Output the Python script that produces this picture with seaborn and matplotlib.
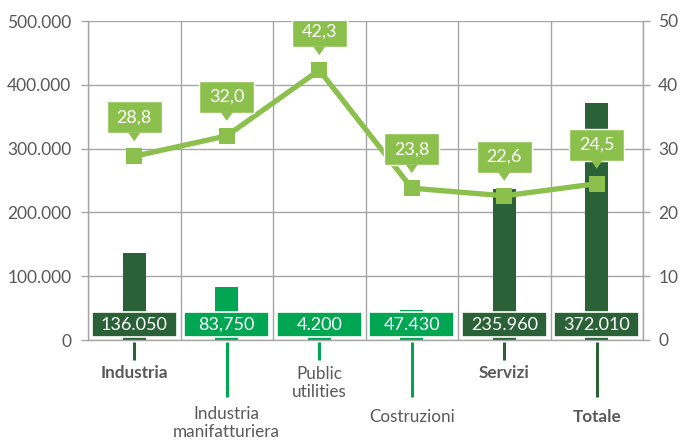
import numpy as np
import pandas as pd
import seaborn as sns
import matplotlib
matplotlib.use("Agg")
import matplotlib.pyplot as plt
from matplotlib.patches import Rectangle, Polygon

# ---------------- data ----------------
categories = ["Industria", "Industria\nmanifatturiera", "Public\nutilities",
              "Costruzioni", "Servizi", "Totale"]
employees = [136050, 83750, 4200, 47430, 235960, 372010]
employee_labels = ["136.050", "83,750", "4.200", "47.430", "235.960", "372.010"]
share = [28.8, 32.0, 42.3, 23.8, 22.6, 24.5]
share_labels = ["28,8", "32,0", "42,3", "23,8", "22,6", "24,5"]
is_aggregate = [True, False, False, False, True, True]
left_ticks = [0, 100000, 200000, 300000, 400000, 500000]
left_tick_labels = ["0", "100.000", "200.000", "300.000", "400.000", "500.000"]
right_ticks = [0, 10, 20, 30, 40, 50]
right_tick_labels = ["0", "10", "20", "30", "40", "50"]
label_long = [False, True, False, True, False, True]

# ---------------- style ----------------
DARK = "#2A6137"
BRIGHT = "#00A651"
LINE = "#8BC04C"
GRID = "#A6A6A6"
TXT = "#595959"

sns.set_theme(style="white")
plt.rcParams["font.family"] = ["Lato", "DejaVu Sans"]

W, H = 682, 440
fig = plt.figure(figsize=(W / 100, H / 100), dpi=100)
ax_l, ax_b, ax_w, ax_h = 88, 100, 555, 319
ax = fig.add_axes([ax_l / W, ax_b / H, ax_w / W, ax_h / H])

colors = [DARK if a else BRIGHT for a in is_aggregate]
df = pd.DataFrame({"cat": categories, "emp": employees})
sns.barplot(data=df, x="cat", y="emp", hue="cat", palette=colors, legend=False,
            width=0.25, saturation=1, ax=ax, zorder=2, edgecolor="none")

ax.set_xlim(-0.5, 5.5)
ax.set_ylim(0, 500000)
ax.set_xlabel("")
ax.set_ylabel("")
ax.set_xticks(range(len(categories)))
ax.set_xticklabels([])
ax.set_xticks(np.arange(-0.5, len(categories), 1), minor=True)
ax.tick_params(axis="x", which="both", length=0)
ax.set_yticks(left_ticks)
ax.set_yticklabels(left_tick_labels)
ax.tick_params(axis="y", length=5, width=1, color=GRID, labelsize=12.5,
               labelcolor=TXT, pad=7)
ax.set_axisbelow(True)
ax.grid(axis="y", color=GRID, lw=1)
ax.grid(axis="x", which="minor", color=GRID, lw=1)
ax.grid(axis="x", which="major", visible=False)
for s in ["left", "right", "bottom"]:
    ax.spines[s].set_color(GRID)
    ax.spines[s].set_linewidth(1)
ax.spines["top"].set_visible(False)

# unit conversions (pixels -> data)
px_x = 6 / ax_w
px_l = 500000 / ax_h
px_r = 50 / ax_h

# value boxes over the bar bottoms
for i, (lab, agg) in enumerate(zip(employee_labels, is_aggregate)):
    c = DARK if agg else BRIGHT
    ax.add_patch(Rectangle((i - 0.46, 3 * px_l), 0.92, 25 * px_l, facecolor=c,
                           edgecolor="white", lw=1.2, zorder=3))
    ax.text(i, 15.5 * px_l, lab, ha="center", va="center", color="white",
            fontsize=13, zorder=4)

# category labels with leader ticks
xt = ax.get_xaxis_transform()
for i, (cat, agg, lng) in enumerate(zip(categories, is_aggregate, label_long)):
    c = DARK if agg else BRIGHT
    end = -57 / ax_h if lng else -20 / ax_h
    ax.plot([i, i], [-2 / ax_h, end], transform=xt, color=c, lw=2.2,
            clip_on=False, solid_capstyle="butt")
    if lng:
        ly = -77 / ax_h if "\n" not in cat else -83 / ax_h
    else:
        ly = -33 / ax_h if "\n" not in cat else -43 / ax_h
    ax.text(i, ly, cat, transform=xt, ha="center", va="center", color=TXT,
            fontsize=12.3, fontweight="bold" if agg else "normal",
            linespacing=1.2)

# ---------------- line on secondary axis ----------------
ax2 = ax.twinx()
sns.lineplot(x=np.arange(len(share)), y=share, ax=ax2, color=LINE, lw=3.8,
             marker="s", markersize=11.5, markeredgewidth=0, zorder=3)
ax2.set_ylim(0, 50)
ax2.set_xlim(-0.5, 5.5)
ax2.set_yticks(right_ticks)
ax2.set_yticklabels(right_tick_labels)
ax2.tick_params(axis="y", length=5, width=1, color=GRID, labelsize=12.5,
                labelcolor=TXT, pad=6)
ax2.set_ylabel("")
for s in ax2.spines.values():
    s.set_visible(False)
ax2.grid(False)

# callouts
for i, (v, lab) in enumerate(zip(share, share_labels)):
    cy = v + 39 * px_r
    hw, hh = 27.5 * px_x, 16 * px_r
    ax2.add_patch(Rectangle((i - hw, cy - hh), 2 * hw, 2 * hh, facecolor=LINE,
                            edgecolor="white", lw=1, zorder=5))
    tri = [(i - 6 * px_x, cy - hh + 0.5 * px_r), (i + 6 * px_x, cy - hh + 0.5 * px_r),
           (i, v + 15 * px_r)]
    ax2.add_patch(Polygon(tri, closed=True, facecolor=LINE, edgecolor="none",
                          zorder=5))
    ax2.text(i, cy, lab, ha="center", va="center", color="white", fontsize=13,
             zorder=6)

fig.savefig("out.png", dpi=100)
